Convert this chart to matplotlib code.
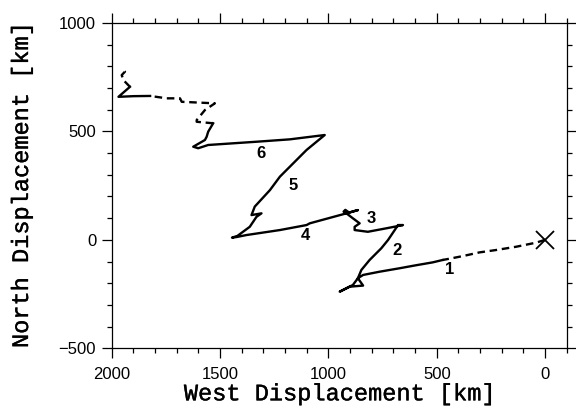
import matplotlib
matplotlib.use("Agg")
import matplotlib.pyplot as plt
import matplotlib.patheffects as pe
from matplotlib.ticker import MultipleLocator

# storm track, west / north displacement in km
dash_a_x = [0, 41, 134, 226, 303, 380, 441, 473]
dash_a_y = [0, -13, -32, -47, -58, -75, -87, -93]

track_x = [473, 519, 600, 671, 764, 840, 864, 887, 948, 902, 840, 864,
           848, 810, 779, 756, 725, 694, 679, 656, 733, 818, 879, 879,
           856, 887, 917, 930, 922, 905, 917, 864, 917, 1086, 1101, 1224,
           1378, 1423, 1445, 1420, 1363, 1332, 1309, 1355, 1340, 1270, 1224,
           1147, 1101, 1017, 1178, 1332, 1555, 1601, 1624, 1570, 1562, 1555,
           1532]
track_y = [-93, -104, -118, -131, -147, -162, -177, -208, -239, -216, -211,
           -177, -139, -93, -62, -39, -1, 45, 68, 68, 53, 37, 45, 60, 76, 99,
           122, 130, 138, 126, 122, 137, 122, 76, 68, 45, 22, 13, 10, 18, 60,
           106, 122, 114, 153, 229, 291, 368, 414, 483, 463, 452, 437, 422,
           429, 460, 475, 498, 537]

dash_b_x = [1532, 1608, 1608, 1570, 1524, 1677, 1685, 1746, 1823]
dash_b_y = [537, 544, 552, 598, 629, 636, 652, 652, 663]

solid_b_x = [1823, 1900, 1969, 1916]
solid_b_y = [663, 662, 659, 705]

dash_c_x = [1916, 1946, 1954, 1939, 1946]
dash_c_y = [705, 736, 759, 775, 782]

seg_labels = ["1", "2", "3", "4", "5", "6"]
seg_label_x = [441, 684, 802, 1105, 1163, 1313]
seg_label_y = [-139, -50, 99, 22, 248, 399]

fig = plt.figure(figsize=(5.76, 4.12), dpi=100)
ax = fig.add_axes([0.194, 0.1546, 0.790, 0.790])

lw = 1.7
dash = (0, (3.2, 2.0))
ax.plot(dash_a_x, dash_a_y, color="black", lw=lw, ls=dash)
ax.plot(track_x, track_y, color="black", lw=lw, solid_joinstyle="round")
ax.plot(dash_b_x, dash_b_y, color="black", lw=lw, ls=dash)
ax.plot(solid_b_x, solid_b_y, color="black", lw=lw)
ax.plot(dash_c_x, dash_c_y, color="black", lw=lw, ls=dash)
ax.plot([0], [0], marker="x", ms=12.5, mew=1.3, color="black")

for s, x, y in zip(seg_labels, seg_label_x, seg_label_y):
    ax.text(x, y, s, ha="center", va="center", fontsize=12,
            fontweight="bold", family="Liberation Sans")

ax.set_xlim(2000, -100)
ax.set_ylim(-500, 1000)
ax.xaxis.set_major_locator(MultipleLocator(500))
ax.xaxis.set_minor_locator(MultipleLocator(100))
ax.yaxis.set_major_locator(MultipleLocator(500))
ax.yaxis.set_minor_locator(MultipleLocator(100))
ax.tick_params(which="both", direction="out", top=True, right=True,
               width=0.9, labelsize=12, labelfontfamily="Liberation Sans")
ax.tick_params(which="major", length=7.2, pad=4)
ax.tick_params(axis="x", which="major", pad=6.5)
ax.tick_params(which="minor", length=3.3)
for sp in ax.spines.values():
    sp.set_linewidth(0.9)

thick = [pe.withStroke(linewidth=0.25, foreground="black")]
ax.set_xlabel("West Displacement [km]", family="Liberation Mono",
              fontsize=17, labelpad=0, path_effects=thick)
ax.set_ylabel("North Displacement [km]", family="Liberation Mono",
              fontsize=17, labelpad=18.5, path_effects=thick)

fig.savefig("out.png", dpi=100)
